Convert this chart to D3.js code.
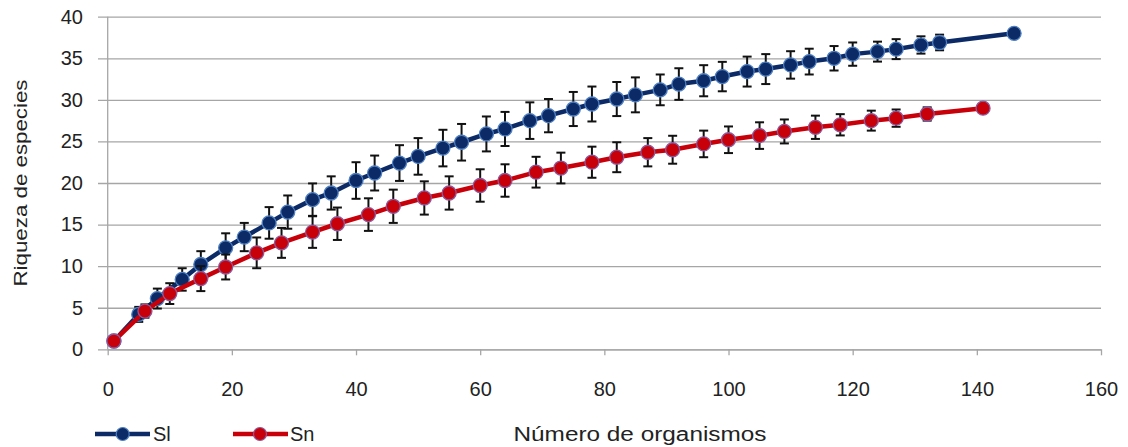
<!DOCTYPE html>
<html>
<head>
<meta charset="utf-8">
<script src="https://cdn.jsdelivr.net/npm/d3@7"></script>
<style>
  html, body { margin: 0; padding: 0; background: #ffffff; }
  svg { display: block; }
  text { font-family: "Liberation Sans", Arial, sans-serif; fill: #222; }
</style>
</head>
<body>
<svg id="chart" width="1128" height="447"></svg>
<script>
// ---- data ----
const slX = [1, 5, 8, 12, 15, 19, 22, 26, 29, 33, 36, 40, 43, 47, 50, 54, 57, 61, 64, 68, 71, 75, 78, 82, 85, 89, 92, 96, 99, 103, 106, 110, 113, 117, 120, 124, 127, 131, 134, 146];
const slY = [1.0, 4.2, 6.1, 8.4, 10.2, 12.2, 13.5, 15.2, 16.5, 18.0, 18.8, 20.3, 21.2, 22.4, 23.2, 24.2, 24.9, 25.9, 26.5, 27.5, 28.1, 28.9, 29.5, 30.1, 30.6, 31.2, 31.9, 32.3, 32.8, 33.4, 33.7, 34.2, 34.6, 35.0, 35.5, 35.8, 36.1, 36.6, 36.9, 38.0];
const slErr = [0, 0.9, 1.2, 1.35, 1.6, 1.75, 1.7, 1.9, 2.0, 1.95, 2.0, 2.2, 2.1, 2.15, 2.2, 2.2, 2.2, 2.1, 2.05, 2.2, 2.0, 2.05, 2.1, 2.05, 2.1, 1.85, 1.9, 1.87, 1.77, 1.8, 1.8, 1.65, 1.55, 1.47, 1.4, 1.2, 1.2, 1.04, 0.94, 0];

const snX = [1, 6, 10, 15, 19, 24, 28, 33, 37, 42, 46, 51, 55, 60, 64, 69, 73, 78, 82, 87, 91, 96, 100, 105, 109, 114, 118, 123, 127, 132, 141];
const snY = [1.0, 4.6, 6.7, 8.5, 9.9, 11.6, 12.8, 14.1, 15.1, 16.2, 17.2, 18.2, 18.8, 19.7, 20.3, 21.3, 21.8, 22.5, 23.1, 23.7, 24.0, 24.7, 25.2, 25.7, 26.2, 26.7, 27.0, 27.5, 27.8, 28.3, 29.0];
const snErr = [0, 0.8, 1.25, 1.5, 1.5, 1.85, 1.8, 1.9, 1.95, 1.96, 2.0, 2.0, 2.0, 1.95, 1.95, 1.85, 1.85, 1.87, 1.8, 1.7, 1.68, 1.6, 1.6, 1.6, 1.44, 1.4, 1.28, 1.2, 1.04, 0.8, 0];

const xTicks = [0, 20, 40, 60, 80, 100, 120, 140, 160];
const yTicks = [0, 5, 10, 15, 20, 25, 30, 35, 40];
const seriesNames = ["Sl", "Sn"];
const xTitle = "Número de organismos";
const yTitle = "Riqueza de especies";

// ---- layout ----
const svg = d3.select("#chart");
const pLeft = 107.7, pRight = 1101, pTop = 16.7, pBottom = 349.3;
const x = d3.scaleLinear().domain([0, 160]).range([pLeft, pRight]);
const y = d3.scaleLinear().domain([0, 40]).range([pBottom, pTop]);
const gridColor = "#a6a6a6";

// horizontal gridlines + y labels
const yAxis = d3.axisLeft(y).tickValues(yTicks).tickSize(-(pRight - 98)).tickPadding(15);
const gy = svg.append("g").attr("transform", "translate(98,0)").call(yAxis);
gy.select(".domain").remove();
gy.selectAll(".tick line").attr("stroke", gridColor).attr("stroke-width", 1.3);
gy.selectAll(".tick text").attr("font-size", 20).attr("fill", "#222")
  .attr("font-family", "Liberation Sans, Arial, sans-serif");

// vertical axis line
svg.append("line").attr("x1", pLeft).attr("x2", pLeft).attr("y1", pTop).attr("y2", pBottom)
  .attr("stroke", gridColor).attr("stroke-width", 1.3);

// x axis
const xAxis = d3.axisBottom(x).tickValues(xTicks).tickSize(6).tickSizeOuter(0).tickPadding(27);
const gx = svg.append("g").attr("transform", `translate(0,${pBottom})`).call(xAxis);
gx.select(".domain").attr("stroke", gridColor).attr("stroke-width", 1.3);
gx.selectAll(".tick line").attr("stroke", gridColor).attr("stroke-width", 1.3);
gx.selectAll(".tick text").attr("font-size", 20).attr("fill", "#222")
  .attr("font-family", "Liberation Sans, Arial, sans-serif");

// series
const series = [
  { name: seriesNames[0], xs: slX, ys: slY, es: slErr, color: "#0b2a66", edge: "#4f7fc0" },
  { name: seriesNames[1], xs: snX, ys: snY, es: snErr, color: "#c8000a", edge: "#8a5a9e" }
];

const line = d3.line().x(d => x(d.x)).y(d => y(d.y));

series.forEach(s => {
  const pts = s.xs.map((v, i) => ({ x: v, y: s.ys[i], e: s.es[i] }));
  const g = svg.append("g");
  g.append("path").datum(pts).attr("d", line).attr("fill", "none")
    .attr("stroke", s.color).attr("stroke-width", 4.5).attr("stroke-linejoin", "round");
  // error bars
  const eb = g.append("g").attr("stroke", "#111").attr("stroke-width", 2);
  pts.filter(d => d.e > 0).forEach(d => {
    const cx = x(d.x), y1 = y(d.y + d.e), y2 = y(d.y - d.e);
    eb.append("line").attr("x1", cx).attr("x2", cx).attr("y1", y1).attr("y2", y2);
    eb.append("line").attr("x1", cx - 4.5).attr("x2", cx + 4.5).attr("y1", y1).attr("y2", y1);
    eb.append("line").attr("x1", cx - 4.5).attr("x2", cx + 4.5).attr("y1", y2).attr("y2", y2);
  });
  g.selectAll("circle.m").data(pts).enter().append("circle").attr("class", "m")
    .attr("cx", d => x(d.x)).attr("cy", d => y(d.y)).attr("r", 7)
    .attr("fill", s.color).attr("stroke", s.edge).attr("stroke-width", 1.3);
});

// legend
const legY = 434;
const legItems = [
  { x1: 95, x2: 150, mx: 122.7, tx: 153, s: series[0] },
  { x1: 233, x2: 288, mx: 260, tx: 290, s: series[1] }
];
legItems.forEach(l => {
  svg.append("line").attr("x1", l.x1).attr("x2", l.x2).attr("y1", legY).attr("y2", legY)
    .attr("stroke", l.s.color).attr("stroke-width", 4.5);
  svg.append("circle").attr("cx", l.mx).attr("cy", legY).attr("r", 6.5)
    .attr("fill", l.s.color).attr("stroke", l.s.edge).attr("stroke-width", 1.2);
  svg.append("text").attr("x", l.tx).attr("y", legY).attr("dy", "0.35em")
    .attr("font-size", 20).text(l.s.name);
});

// axis titles
svg.append("text").attr("x", 640).attr("y", legY).attr("dy", "0.35em")
  .attr("text-anchor", "middle").attr("font-size", 20)
  .attr("textLength", 253).attr("lengthAdjust", "spacingAndGlyphs").text(xTitle);
svg.append("text").attr("transform", "translate(20,183) rotate(-90)")
  .attr("text-anchor", "middle").attr("dy", "0.35em").attr("font-size", 19)
  .attr("textLength", 207).attr("lengthAdjust", "spacingAndGlyphs").text(yTitle);
</script>
</body>
</html>
